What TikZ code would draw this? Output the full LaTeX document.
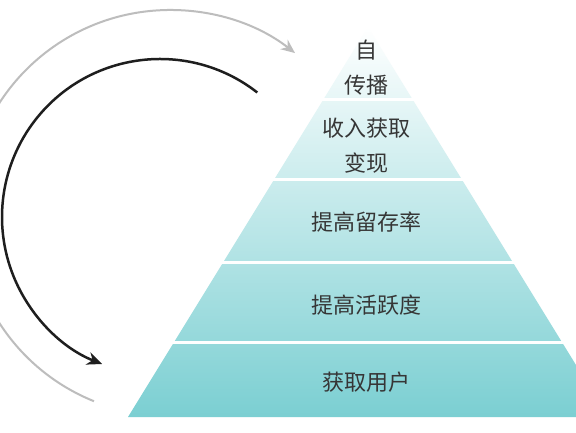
\documentclass[tikz,border=0pt]{standalone}
\usepackage{fontspec}
\newfontfamily\cjk{Noto Sans CJK SC}
\usetikzlibrary{arrows.meta}
\definecolor{tealbot}{HTML}{7BCFD2}
\definecolor{tealmid}{HTML}{BDE6E7}
\definecolor{txtc}{HTML}{363636}
\definecolor{arcgray}{HTML}{BDBDBD}
\definecolor{arcblack}{HTML}{1E1E1E}
\tikzset{
  lbl/.style={text=txtc, font=\cjk\fontsize{22}{35}\selectfont, align=center, inner sep=0pt},
  gap/.style={white, line width=3pt},
  grayarc/.style={arcgray, line width=2pt, -{Stealth[length=14pt,width=12pt]}},
  blackarc/.style={arcblack, line width=2.5pt, -{Stealth[length=15pt,width=13pt]}},
}
\begin{document}
\begin{tikzpicture}[x=1pt,y=1pt]
\useasboundingbox (0,0) rectangle (576,432);
\clip (0,0) rectangle (576,432);
\fill[white] (0,0) rectangle (576,432);
% pyramid
\coordinate (apex) at (368,405);
\coordinate (bl) at (128,15);
\coordinate (br) at (608,15);
\shade[top color=white, middle color=tealmid, bottom color=tealbot] (apex) -- (bl) -- (br) -- cycle;
% separators
\foreach \yy in {332,253,170,90} {
  \draw[gap] (100,\yy) -- (620,\yy);
}
% labels
\node[lbl] (t5) at (366,364.5) {自\\传播};
\node[lbl] (t4) at (366,286.5) {收入获取\\变现};
\node[lbl] (t3) at (366,210) {提高留存率};
\node[lbl] (t2) at (366,127) {提高活跃度};
\node[lbl] (t1) at (366,50) {获取用户};
% arcs
\coordinate (gc) at (170,219);
\coordinate (bc) at (160,215);
\draw[grayarc] (gc) ++(248:203) arc[start angle=248, end angle=52, radius=203pt];
\draw[blackarc] (bc) ++(52:158) arc[start angle=52, end angle=248.5, radius=158pt];
\end{tikzpicture}
\end{document}
